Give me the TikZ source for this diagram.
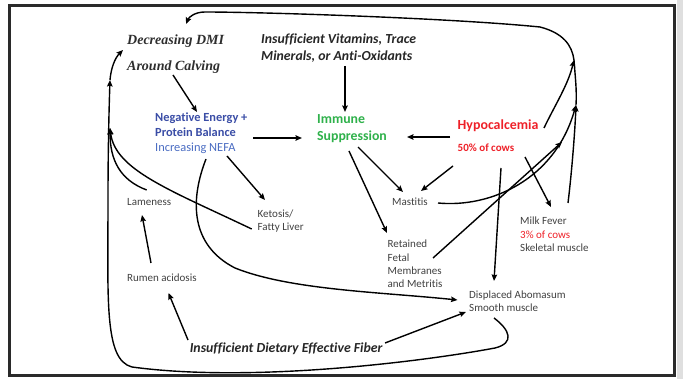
\documentclass[tikz,border=0pt]{standalone}
\usepackage{fontspec}
\setmainfont{Liberation Serif}
\newfontfamily\calib[Ligatures=NoCommon]{Carlito}
\usetikzlibrary{arrows.meta,calc}
\definecolor{txtgray}{HTML}{404040}
\definecolor{dmigray}{HTML}{2E2E2E}
\definecolor{vitgray}{HTML}{262626}
\definecolor{nebblue}{HTML}{3A4DA6}
\definecolor{nefablue}{HTML}{4A6CC2}
\definecolor{immgreen}{HTML}{2FB14B}
\definecolor{hypred}{HTML}{EE2028}
\definecolor{framecol}{HTML}{2A2A2A}
\begin{document}
\begin{tikzpicture}[x=1pt,y=-1pt,
  conn/.style={line width=1.4pt, -{Stealth[length=6.5pt,width=5.5pt,inset=1pt]}},
  plain/.style={line width=1.4pt},
  lbl/.style={anchor=west, inner sep=0pt, align=left},
  small/.style={lbl, font=\calib\fontsize{11}{13.3}\selectfont, text=txtgray},
  serifbi/.style={lbl, font=\bfseries\itshape\fontsize{14}{16}\selectfont, text=dmigray},
  sansbi/.style={lbl, font=\calib\bfseries\itshape\fontsize{13.8}{17.4}\selectfont, text=vitgray}]
\useasboundingbox (0,0) rectangle (683,379);
\fill[gray!25] (676.5,0) rectangle (683,379);
\draw[line width=3pt, framecol] (9.5,5.5) rectangle (674.5,375.5);

% nodes
\node[serifbi] (dmi) at (127,41) {Decreasing DMI};
\node[serifbi] (calv) at (127,67) {Around Calving};
\node[sansbi] (vit) at (261,48) {Insufficient Vitamins, Trace\\Minerals, or Anti-Oxidants};
\node[lbl, font=\calib\fontsize{12.4}{15}\selectfont] (neb) at (155,133)
  {\textcolor{nebblue}{\bfseries Negative Energy +}\\\textcolor{nebblue}{\bfseries Protein Balance}\\\textcolor{nefablue}{Increasing NEFA}};
\node[lbl, font=\calib\bfseries\fontsize{13.8}{17}\selectfont, text=immgreen] (imm) at (317,128.5) {Immune\\Suppression};
\node[lbl, font=\calib\bfseries\fontsize{13.9}{16}\selectfont, text=hypred] (hyp) at (457.5,126) {Hypocalcemia};
\node[lbl, font=\calib\bfseries\fontsize{11}{13}\selectfont, text=hypred] (hyp50) at (457.5,148) {50\% of cows};
\node[small] (lam) at (127,202) {Lameness};
\node[small] (ket) at (257.5,221) {Ketosis/\\Fatty Liver};
\node[small] (mast) at (392,202) {Mastitis};
\node[small] (mf) at (520,234.5) {Milk Fever\\\textcolor{hypred}{3\% of cows}\\Skeletal muscle};
\node[small] (ret) at (387.5,264) {Retained\\Fetal\\Membranes\\and Metritis};
\node[small] (rum) at (127,278) {Rumen acidosis};
\node[small] (da) at (469,301.5) {Displaced Abomasum\\Smooth muscle};
\node[sansbi] (fib) at (189.6,349) {Insufficient Dietary Effective Fiber};

% junctions
\coordinate (j1) at (110,128);
\coordinate (j2) at (110,80);
\coordinate (j3) at (574,60);
\coordinate (j4) at (576,105);
\coordinate (j5) at (562,142);

% straight connectors
\draw[conn] ($(calv.west)+(46,8)$) -- ($(neb.west)+(42,-21)$);
\draw[conn] ($(vit.west)+(84,18)$) -- ($(imm.west)+(28,-16.5)$);
\draw[conn] ($(neb.west)+(98,5)$) -- ($(imm.west)+(-15,9.5)$);
\draw[conn] ($(hyp.west)+(-7.5,11)$) -- ($(imm.west)+(90,8.5)$);
\draw[conn] ($(imm.west)+(41,18.5)$) -- ($(mast.west)+(11,-10)$);
\draw[conn] ($(imm.west)+(32,22.5)$) -- ($(ret.west)+(-0.5,-31)$);
\draw[conn] ($(hyp50.west)+(-4.5,18)$) -- ($(mast.west)+(29,-11)$);
\draw[conn] ($(hyp50.west)+(43.5,20)$) -- ($(da.west)+(25,-20.5)$);
\draw[conn] ($(hyp50.west)+(67.5,9)$) -- ($(mf.west)+(31,-27.5)$);
\draw[conn] ($(neb.west)+(72,23)$) -- ($(ket.west)+(7.5,-21)$);
\draw[conn] ($(fib.west)+(-1.6,-9)$) -- ($(rum.west)+(41.5,15)$);
\draw[conn] ($(rum.west)+(24,-15)$) -- ($(lam.west)+(15,13)$);
\draw[conn] ($(fib.west)+(195.4,-6)$) -- ($(da.west)+(-3,10.5)$);
\draw[conn] ($(ret.west)+(45.5,-6)$) -- (j5);

% curved connectors
\draw[conn] ($(neb.west)+(51,26)$) .. controls (190,200) and (190,245) .. (235,268)
  .. controls (290,290) and (380,292) .. ($(da.west)+(-11.5,-1.5)$);
\draw[conn] ($(lam.west)+(19.7,-12)$) .. controls (120,180) and (110,160) .. (j1);
\draw[conn] ($(ket.west)+(-5.8,8)$) .. controls (170,190) and (115,170) .. (j1);
\draw[conn] ($(da.west)+(25,16.5)$) .. controls (510,330) and (515,343) .. (495,348)
  .. controls (420,362) and (250,383) .. (132,367)
  .. controls (104,360) and (108,300) .. (108,200)
  .. controls (108,150) and (109,110) .. (j2);
\draw[conn] (j2) .. controls (111,68) and (115,58) .. ($(dmi.west)+(-4,9)$);
\draw[conn] ($(hyp.west)+(86.5,2)$) .. controls (555,105) and (568,85) .. (j3);
\draw[conn] ($(mf.west)+(48,-31.5)$) .. controls (572,170) and (575,130) .. (j4);
\draw[conn] ($(mast.west)+(46,1)$) .. controls (490,208) and (555,180) .. (j4);
\draw[conn] (j4) .. controls (577,90) and (575,75) .. (j3)
  .. controls (572,45) and (563,33) .. (540,27)
  .. controls (450,18) and (260,12) .. (205,12)
  .. controls (195,12) and (189,17) .. ($(dmi.west)+(59,-17)$);
\end{tikzpicture}
\end{document}
